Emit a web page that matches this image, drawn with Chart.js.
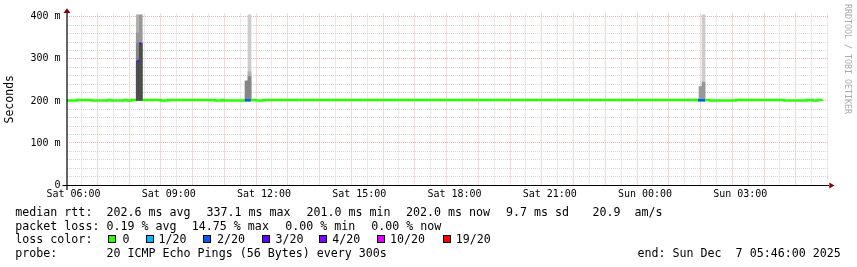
<!DOCTYPE html>
<html>
<head>
<meta charset="utf-8">
<script src="https://cdn.jsdelivr.net/npm/chart.js@4.4.1/dist/chart.umd.min.js"></script>
<style>
  html, body { margin: 0; padding: 0; background: #fff; }
  #wrap { position: relative; width: 857px; height: 267px; overflow: hidden; }
  #chart { position: absolute; left: 0; top: 0; }
  .t { position: absolute; font-family: 'DejaVu Sans Mono', monospace; font-size: 11.65px; line-height: 14px; color: #000; white-space: pre; }
  .box { position: absolute; width: 6px; height: 6px; border: 1px solid #000; top: 235px; }
  #brand { position: absolute; left: 842px; top: 4.2px; width: 12px; font-family: 'DejaVu Sans Mono', monospace; font-size: 8.3px; line-height: 12px; color: #aaa; writing-mode: vertical-rl; white-space: pre; }
</style>
</head>
<body>
<div id="wrap">
  <canvas id="chart" width="857" height="267"></canvas>
  <div id="brand">RRDTOOL / TOBI OETIKER</div>

  <div class="t" style="left:15.3px;top:205px">median rtt:</div>
  <div class="t" style="left:106.5px;top:205px">202.6 ms avg</div>
  <div class="t" style="left:206.5px;top:205px">337.1 ms max</div>
  <div class="t" style="left:306.5px;top:205px">201.0 ms min</div>
  <div class="t" style="left:406px;top:205px">202.0 ms now</div>
  <div class="t" style="left:506px;top:205px">9.7 ms sd</div>
  <div class="t" style="left:592.5px;top:205px">20.9</div>
  <div class="t" style="left:634.5px;top:205px">am/s</div>

  <div class="t" style="left:15.3px;top:218.6px">packet loss:</div>
  <div class="t" style="left:106.5px;top:218.6px">0.19 % avg</div>
  <div class="t" style="left:191.8px;top:218.6px">14.75 % max</div>
  <div class="t" style="left:285.3px;top:218.6px">0.00 % min</div>
  <div class="t" style="left:371.3px;top:218.6px">0.00 % now</div>

  <div class="t" style="left:15.3px;top:232.2px">loss color:</div>
  <div class="box" style="left:108.3px;background:#26ff00"></div>
  <div class="t" style="left:122.5px;top:232.2px">0</div>
  <div class="box" style="left:145.7px;background:#00b8ff"></div>
  <div class="t" style="left:158.5px;top:232.2px">1/20</div>
  <div class="box" style="left:203.3px;background:#0059ff"></div>
  <div class="t" style="left:217px;top:232.2px">2/20</div>
  <div class="box" style="left:261.7px;background:#5e00ff"></div>
  <div class="t" style="left:275.6px;top:232.2px">3/20</div>
  <div class="box" style="left:319px;background:#7e00ff"></div>
  <div class="t" style="left:332.3px;top:232.2px">4/20</div>
  <div class="box" style="left:376.7px;background:#dd00ff"></div>
  <div class="t" style="left:390px;top:232.2px">10/20</div>
  <div class="box" style="left:442.7px;background:#ff0000"></div>
  <div class="t" style="left:455.7px;top:232.2px">19/20</div>

  <div class="t" style="left:15.3px;top:245.7px">probe:</div>
  <div class="t" style="left:106.5px;top:245.7px">20 ICMP Echo Pings (56 Bytes) every 300s</div>
  <div class="t" style="left:637.5px;top:245.7px">end: Sun Dec  7 05:46:00 2025</div>
</div>

<script>
// time axis: hours counted from Sat 00:00
const viewStart = 5.78;   // Sat 05:47
const viewEnd = 29.78;    // Sun 05:47
const xLabelHours = [6, 9, 12, 15, 18, 21, 24, 27];
const xLabels = ['Sat 06:00', 'Sat 09:00', 'Sat 12:00', 'Sat 15:00', 'Sat 18:00', 'Sat 21:00', 'Sun 00:00', 'Sun 03:00'];
const yTickValues = [0, 100, 200, 300, 400];
const yTickLabels = ['0', '100 m', '200 m', '300 m', '400 m'];
const yMax = 408;

// median rtt in ms, each value holds until the next time
const medTimes = [5.78, 6.101, 6.574, 7.087, 7.182, 7.591, 7.686, 7.834, 8.013, 8.073,
                  8.136, 8.747, 8.977, 10.457, 10.668, 10.741, 11.402, 11.582, 11.749, 11.978,
                  25.670, 25.890, 26.048, 26.867, 28.378, 29.093, 29.282, 29.449, 29.597];
const medValues = [201.0, 202.2, 201.0, 202.2, 201.0, 202.2, 201.0, 202.2, 295, 337,
                   202.2, 201.0, 202.2, 201.0, 202.2, 201.0, 201.6, 202.2, 201.0, 202.2,
                   201.6, 202.2, 201.0, 202.2, 201.0, 202.2, 201.0, 202.2, 202.2];
// lost pings out of 20 for each median step
const medLoss = [0, 0, 0, 0, 0, 0, 0, 0, 3, 3,
                 0, 0, 0, 0, 0, 0, 2, 0, 0, 0,
                 2, 0, 0, 0, 0, 0, 0, 0, 0];

// smoke (ping spread) columns, ms; shades go from light (outer) to dark (inner)
const smokeTimes = [8.025, 8.120, 11.449, 11.544, 25.749, 25.844];
const smokeMin = [201, 201, 201, 201, 201, 201];
const smokeShade1 = [null, null, null, 405, null, 405];
const smokeShade2 = [405, null, null, 270, null, null];
const smokeShade3 = [362, 405, null, null, 234, 245];
const smokeShade4 = [338, null, 248, 258, null, null];
const smokeShade5 = [295, 337, null, null, null, null];

const LOSS_COLORS = { 0: '#26ff00', 1: '#00b8ff', 2: '#0059ff', 3: '#5e00ff', 4: '#7e00ff', 10: '#dd00ff', 19: '#ff0000' };
const SHADE_COLORS = ['#cccccc', '#b0b0b0', '#999999', '#858585', '#4d4d4d'];
const MGRID = '#eab4b4';
const GRID = '#d6d6d6';

function smokeDataset(tops, i) {
    const pts = [];
    smokeTimes.forEach((t, k) => {
        if (tops[k] != null) pts.push({ x: t, y: [smokeMin[k], tops[k]] });
    });
    return {
        type: 'bar', data: pts, backgroundColor: SHADE_COLORS[i], borderWidth: 0,
        grouped: false, barPercentage: 1, categoryPercentage: 1, maxBarThickness: 3,
        order: 8 - i
    };
}

// loss coloured pieces of the median, drawn above the smoke
function lossDatasets() {
    const out = [];
    for (let i = 0; i < medTimes.length - 1; i++) {
        if (!medLoss[i]) continue;
        out.push({
            type: 'line',
            data: [{ x: medTimes[i], y: medValues[i] }, { x: medTimes[i + 1], y: medValues[i] }],
            borderColor: LOSS_COLORS[medLoss[i]], borderWidth: 2.4, borderCapStyle: 'butt',
            pointRadius: 0, order: 0
        });
    }
    return out;
}

const datasets = [
    {
        type: 'line',
        data: medTimes.map((t, i) => ({ x: t, y: medValues[i] })),
        stepped: true, borderColor: LOSS_COLORS[0], borderWidth: 2.4, borderCapStyle: 'butt',
        pointRadius: 0, order: 10
    },
    smokeDataset(smokeShade1, 0),
    smokeDataset(smokeShade2, 1),
    smokeDataset(smokeShade3, 2),
    smokeDataset(smokeShade4, 3),
    smokeDataset(smokeShade5, 4),
    ...lossDatasets()
];

// axis lines and arrows like rrdtool
const rrdAxes = {
    id: 'rrdAxes',
    afterDraw(chart) {
        const { ctx, chartArea: a } = chart;
        ctx.save();
        ctx.strokeStyle = '#000';
        ctx.lineWidth = 1;
        ctx.beginPath();
        ctx.moveTo(a.left - 4, a.bottom + 0.5);
        ctx.lineTo(a.right + 0.5, a.bottom + 0.5);
        ctx.stroke();
        ctx.lineWidth = 1.2;
        ctx.beginPath();
        ctx.moveTo(a.left + 0.5, a.bottom + 5);
        ctx.lineTo(a.left + 0.5, a.top - 1);
        ctx.stroke();
        ctx.fillStyle = '#8b0000';
        ctx.beginPath();
        ctx.moveTo(a.left + 0.5, a.top - 5.3);
        ctx.lineTo(a.left - 3, a.top - 0.6);
        ctx.lineTo(a.left + 4, a.top - 0.6);
        ctx.closePath();
        ctx.fill();
        ctx.beginPath();
        ctx.moveTo(a.right + 6, a.bottom + 0.5);
        ctx.lineTo(a.right + 0.8, a.bottom - 2.5);
        ctx.lineTo(a.right + 0.8, a.bottom + 3.5);
        ctx.closePath();
        ctx.fill();
        ctx.restore();
    }
};

Chart.defaults.font.family = "'DejaVu Sans Mono', monospace";
Chart.defaults.color = '#000';

new Chart(document.getElementById('chart'), {
    type: 'line',
    data: { datasets },
    options: {
        responsive: false,
        animation: false,
        events: [],
        layout: { padding: { left: 0, right: 28.5, top: 13.5, bottom: 66 } },
        plugins: { legend: { display: false }, tooltip: { enabled: false } },
        scales: {
            x: {
                type: 'linear', min: viewStart, max: viewEnd, offset: false,
                afterBuildTicks: s => {
                    const ticks = [];
                    for (let h = Math.ceil(viewStart * 2) / 2; h < viewEnd; h += 0.5) ticks.push({ value: h });
                    s.ticks = ticks;
                },
                afterFit: s => { s.height = 16; },
                grid: {
                    color: c => (c.tick && Math.abs(c.tick.value % 1) < 1e-6) ? MGRID : GRID,
                    lineWidth: 1, drawTicks: false
                },
                border: { display: false, dash: [1, 1] },
                ticks: {
                    autoSkip: false, maxRotation: 0, padding: 3, font: { size: 10 },
                    callback: v => {
                        const k = xLabelHours.indexOf(v);
                        return k >= 0 ? xLabels[k] : '';
                    }
                }
            },
            y: {
                min: 0, max: yMax,
                afterBuildTicks: s => {
                    const ticks = [];
                    for (let v = 0; v <= 400; v += 20) ticks.push({ value: v });
                    s.ticks = ticks;
                },
                afterFit: s => { s.width = 66.5; },
                grid: {
                    color: c => (c.tick && c.tick.value % 100 === 0) ? MGRID : GRID,
                    lineWidth: 1, drawTicks: false
                },
                border: { display: false, dash: [1, 1] },
                title: { display: true, text: 'Seconds', font: { size: 11.5 }, padding: { top: 3, bottom: 0 } },
                ticks: {
                    autoSkip: false, padding: 6, font: { size: 10 },
                    callback: v => {
                        const k = yTickValues.indexOf(v);
                        return k >= 0 ? yTickLabels[k] : '';
                    }
                }
            }
        }
    },
    plugins: [rrdAxes]
});
</script>
</body>
</html>
